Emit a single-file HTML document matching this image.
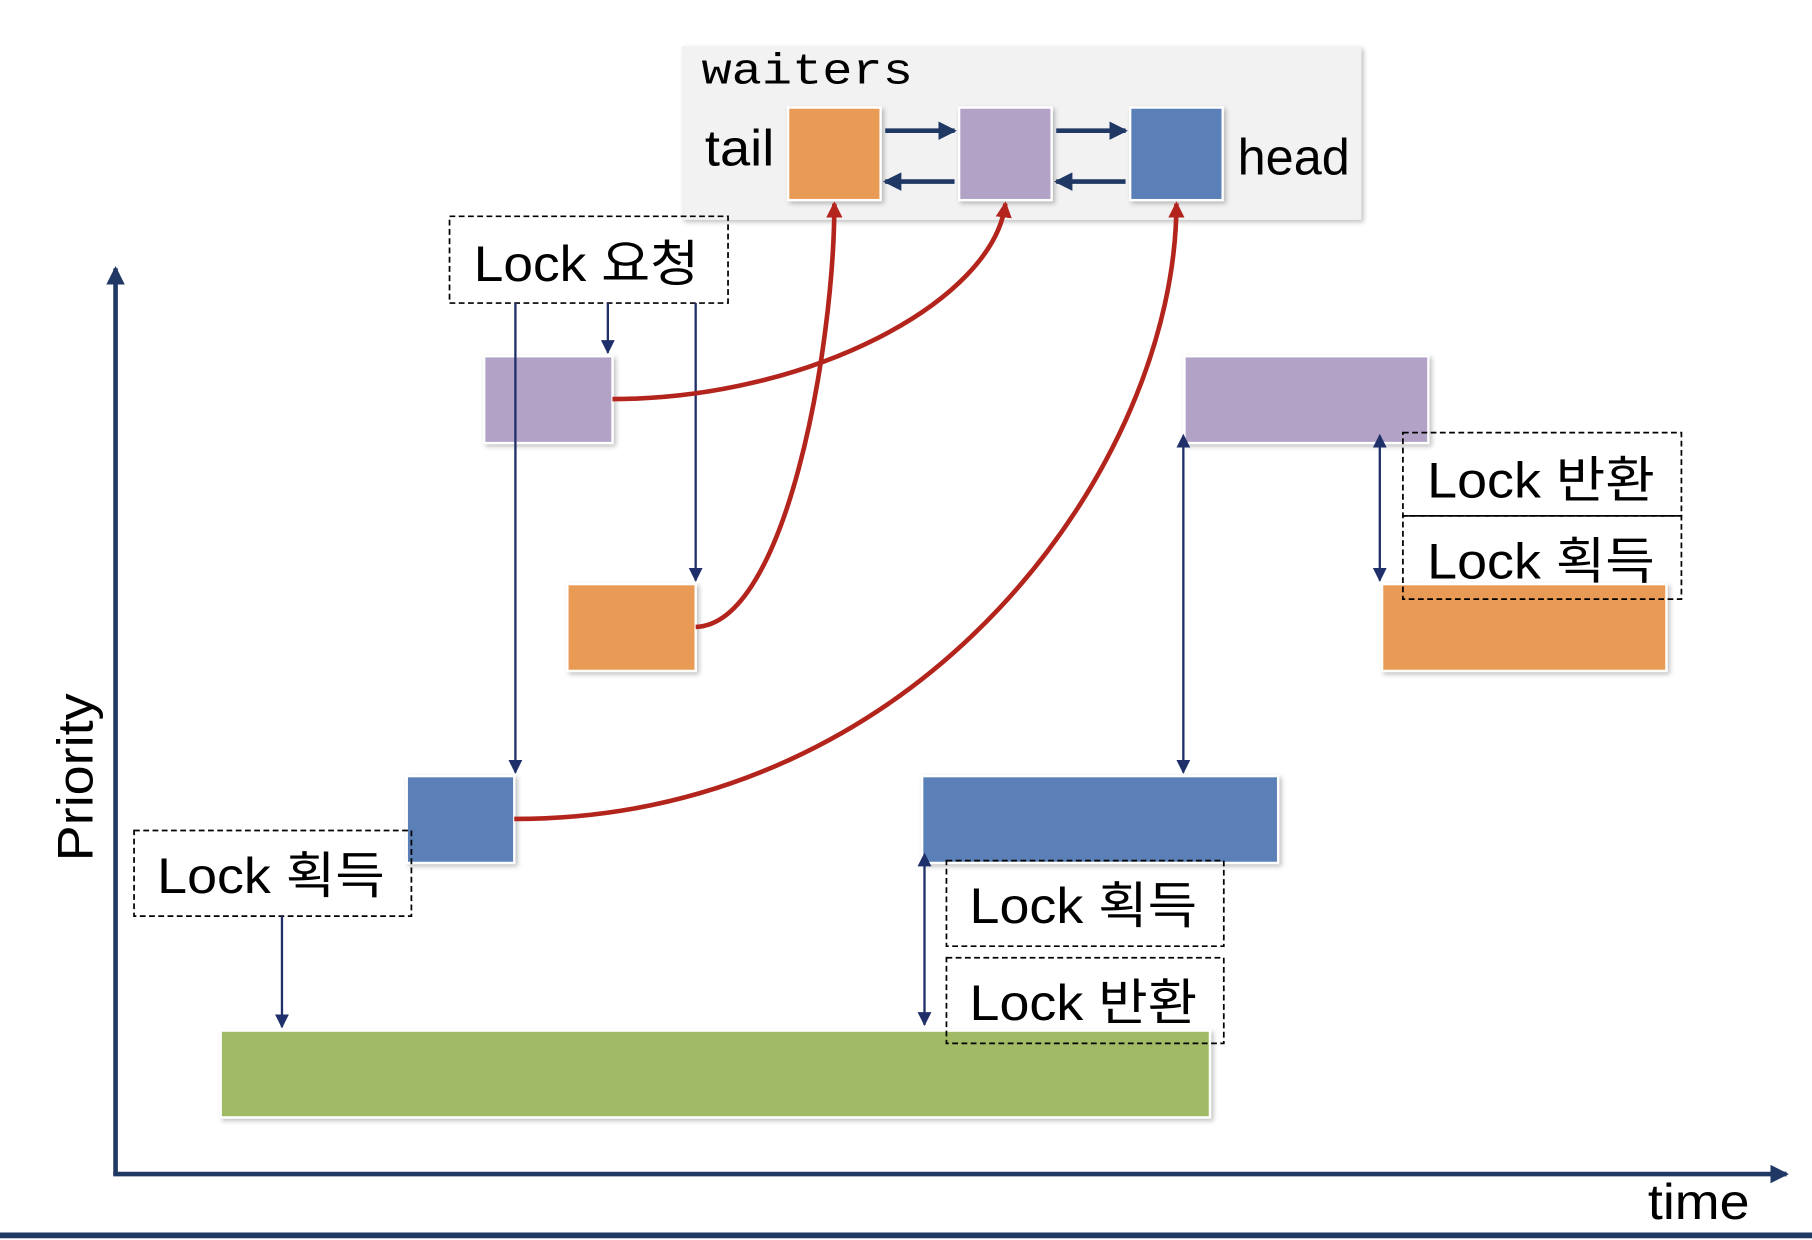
<!DOCTYPE html>
<html><head><meta charset="utf-8"><style>
html,body{margin:0;padding:0;background:#fff;width:1812px;height:1240px;overflow:hidden}
svg{display:block}
text{font-family:"Liberation Sans","Noto Sans CJK KR",sans-serif;fill:#000}
</style></head><body>
<svg width="1812" height="1240" viewBox="0 0 1568 1072" preserveAspectRatio="none" xmlns="http://www.w3.org/2000/svg">
<defs>
<marker id="a" markerWidth="12" markerHeight="14" refX="11" refY="6" orient="auto" markerUnits="userSpaceOnUse"><path d="M0,0 L12,6 L0,12z" fill="#1f2f6a"/></marker>
<marker id="as" markerWidth="12" markerHeight="14" refX="1" refY="6" orient="auto-start-reverse" markerUnits="userSpaceOnUse"><path d="M0,0 L12,6 L0,12z" fill="#1f2f6a"/></marker>
<marker id="b" markerWidth="16" markerHeight="16" refX="14" refY="8" orient="auto" markerUnits="userSpaceOnUse"><path d="M0,0 L16,8 L0,16z" fill="#1f3864"/></marker>
<marker id="r" markerWidth="14" markerHeight="14" refX="12" refY="7" orient="auto" markerUnits="userSpaceOnUse"><path d="M0,0 L14,7 L0,14z" fill="#b3241c"/></marker>
<filter id="s" x="-5%" y="-5%" width="115%" height="120%"><feDropShadow dx="2" dy="2" stdDeviation="2" flood-color="#000" flood-opacity="0.25"/></filter>
</defs>
<rect x="590" y="40" width="588" height="150" fill="#f2f2f2" filter="url(#s)"/>
<text x="607" y="72" textLength="183" lengthAdjust="spacingAndGlyphs" style="font-family:'Liberation Mono',monospace;font-size:38px">waiters</text>
<text x="610" y="143" textLength="60" lengthAdjust="spacingAndGlyphs" style="font-size:44px">tail</text>
<text x="1071" y="151" textLength="97" lengthAdjust="spacingAndGlyphs" style="font-size:44px">head</text>
<g stroke="#fff" stroke-width="2" filter="url(#s)">
<rect x="682" y="93" width="80" height="80" fill="#e99b54"/>
<rect x="830" y="93" width="80" height="80" fill="#b1a2c6"/>
<rect x="978" y="93" width="80" height="80" fill="#5a80b7"/>
<rect x="419" y="308" width="111" height="75" fill="#b1a2c6"/>
<rect x="491" y="505" width="111" height="75" fill="#e99b54"/>
<rect x="352" y="671" width="93" height="75" fill="#5a80b7"/>
<rect x="191" y="891" width="856" height="75" fill="#a0ba66"/>
<rect x="1025" y="308" width="211" height="75" fill="#b1a2c6"/>
<rect x="1196" y="505" width="246" height="75" fill="#e99b54"/>
<rect x="798" y="671" width="308" height="75" fill="#5a80b7"/>
</g>
<g stroke="#203864" stroke-width="4">
<line x1="766" y1="113" x2="826" y2="113" marker-end="url(#b)"/>
<line x1="914" y1="113" x2="974" y2="113" marker-end="url(#b)"/>
<line x1="826" y1="157" x2="766" y2="157" marker-end="url(#b)"/>
<line x1="974" y1="157" x2="914" y2="157" marker-end="url(#b)"/>
</g>
<g fill="none" stroke="#000" stroke-width="1.5" stroke-dasharray="5,3">
<rect x="389" y="187" width="241" height="75"/>
<rect x="1214" y="374" width="241" height="72"/>
<rect x="1214" y="446" width="241" height="72"/>
<rect x="819" y="744" width="240" height="74"/>
<rect x="819" y="828" width="240" height="74"/>
<rect x="116" y="718" width="240" height="74"/>
</g>
<g style="font-size:43px">
<text x="410" y="243" textLength="195" lengthAdjust="spacingAndGlyphs">Lock 요청</text>
<text x="1235" y="430" textLength="197" lengthAdjust="spacingAndGlyphs">Lock 반환</text>
<text x="1235" y="500" textLength="197" lengthAdjust="spacingAndGlyphs">Lock 획득</text>
<text x="839" y="798" textLength="197" lengthAdjust="spacingAndGlyphs">Lock 획득</text>
<text x="839" y="882" textLength="197" lengthAdjust="spacingAndGlyphs">Lock 반환</text>
<text x="136" y="772" textLength="197" lengthAdjust="spacingAndGlyphs">Lock 획득</text>
</g>
<g stroke="#1f2f6a" stroke-width="2" fill="none">
<line x1="446" y1="262" x2="446" y2="668" marker-end="url(#a)"/>
<line x1="526" y1="262" x2="526" y2="305" marker-end="url(#a)"/>
<line x1="602" y1="262" x2="602" y2="502" marker-end="url(#a)"/>
<line x1="244" y1="792" x2="244" y2="888" marker-end="url(#a)"/>
<line x1="1024" y1="386" x2="1024" y2="668" marker-start="url(#as)" marker-end="url(#a)"/>
<line x1="1194" y1="386" x2="1194" y2="502" marker-start="url(#as)" marker-end="url(#a)"/>
<line x1="800" y1="748" x2="800" y2="886" marker-start="url(#as)" marker-end="url(#a)"/>
</g>
<g stroke="#b3241c" stroke-width="4" fill="none">
<path d="M530,345 C700,345 860,260 870,176" marker-end="url(#r)"/>
<path d="M602,542 C680,540 722,300 722,176" marker-end="url(#r)"/>
<path d="M445,708 C800,708 1018,400 1018,176" marker-end="url(#r)"/>
</g>
<g stroke="#203864" stroke-width="4" fill="none">
<line x1="100" y1="1015" x2="100" y2="232" marker-end="url(#b)"/>
<line x1="98" y1="1015" x2="1546" y2="1015" marker-end="url(#b)"/>
</g>
<line x1="0" y1="1068" x2="1568" y2="1068" stroke="#203864" stroke-width="5"/>
<text x="80" y="672" transform="rotate(-90 80 672)" text-anchor="middle" textLength="145" lengthAdjust="spacingAndGlyphs" style="font-size:43px">Priority</text>
<text x="1426" y="1054" textLength="88" lengthAdjust="spacingAndGlyphs" style="font-size:43px">time</text>
</svg>
</body></html>
